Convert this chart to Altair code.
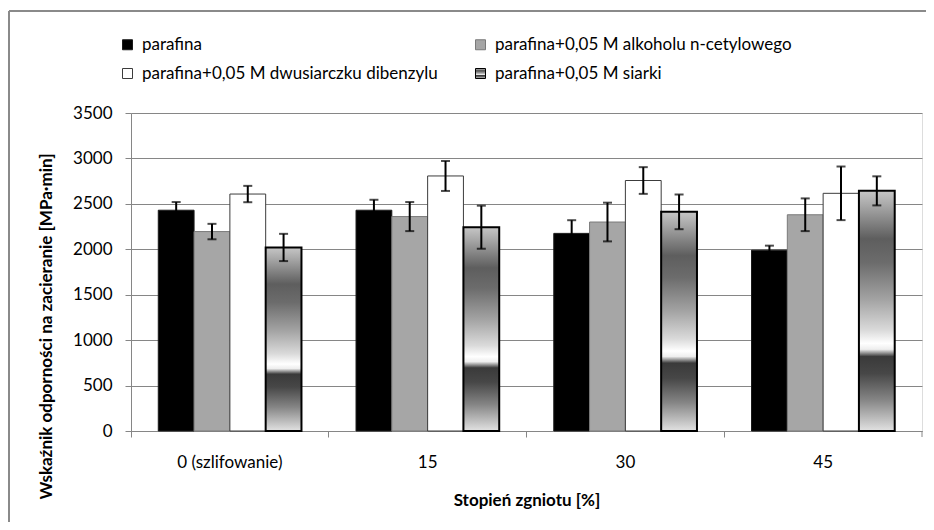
import altair as alt
import pandas as pd

categories = ["0 (szlifowanie)", "15", "30", "45"]
series_names = [
    "parafina",
    "parafina+0,05 M alkoholu n-cetylowego",
    "parafina+0,05 M dwusiarczku dibenzylu",
    "parafina+0,05 M siarki",
]
parafina = [2430, 2430, 2175, 1990]
parafina_err = [90, 115, 145, 50]
alkohol = [2195, 2360, 2300, 2380]
alkohol_err = [85, 160, 213, 180]
dwusiarczek = [2608, 2807, 2757, 2616]
dwusiarczek_err = [90, 165, 147, 295]
siarka = [2020, 2243, 2412, 2643]
siarka_err = [150, 237, 191, 160]
y_ticks = [0, 500, 1000, 1500, 2000, 2500, 3000, 3500]

rows = []
for name, vals, errs in zip(series_names,
                            [parafina, alkohol, dwusiarczek, siarka],
                            [parafina_err, alkohol_err, dwusiarczek_err, siarka_err]):
    for c, v, e in zip(categories, vals, errs):
        rows.append({"cat": c, "series": name, "value": v, "lo": v - e, "hi": v + e})
df = pd.DataFrame(rows)

grad_expr = (
    "{gradient: 'linear', x1: 0, y1: 0, x2: 0, y2: 1, stops: ["
    "{offset: 0, color: '#c6c6c6'}, {offset: 0.06, color: '#a8a8a8'},"
    "{offset: 0.2, color: '#5e5e5e'}, {offset: 0.3, color: '#6c6c6c'},"
    "{offset: 0.45, color: '#a2a2a2'}, {offset: 0.58, color: '#dadada'},"
    "{offset: 0.635, color: '#ffffff'}, {offset: 0.66, color: '#eeeeee'},"
    "{offset: 0.69, color: '#3a3a3a'}, {offset: 0.76, color: '#474747'},"
    "{offset: 0.87, color: '#858585'}, {offset: 1, color: '#e2e2e2'}]}"
)

GRAY = "#868686"
FONT = "Lato"
FS = 17

# legend entries fill column by column: order them so rows read as in the original
legend_order = [series_names[0], series_names[2], series_names[1], series_names[3]]

legend = alt.Legend(
    title=None, orient="none", legendX=-12, legendY=-77, columns=2,
    columnPadding=34, rowPadding=11, symbolType="square", symbolSize=100,
    symbolStrokeWidth=1, labelFont=FONT, labelFontSize=FS, labelColor="#000000",
    labelOffset=6, padding=0, labelLimit=500, values=legend_order,
)

x_enc = alt.X(
    "cat:N", sort=categories, title="Stopień zgniotu [%]",
    scale=alt.Scale(paddingInner=0, paddingOuter=0),
    axis=alt.Axis(
        labelAngle=0, bandPosition=0, labelFont=FONT,
        labelFontSize=FS, labelColor="#000000", labelPadding=17, tickSize=6,
        tickColor=GRAY, domainColor=GRAY, titleFont=FONT, titleFontSize=FS,
        titleFontWeight="bold", titleColor="#000000", titleY=69,
        titleBaseline="middle", grid=False,
    ),
)
xoff = alt.XOffset("series:N", sort=series_names,
                   scale=alt.Scale(paddingInner=0, paddingOuter=0.762))
y_scale = alt.Scale(domain=[0, 3500], nice=False)

bars = alt.Chart(df).mark_bar(binSpacing=0).encode(
    x=x_enc,
    xOffset=xoff,
    y=alt.Y(
        "value:Q", stack=None, scale=y_scale,
        title="Wskaźnik odporności na zacieranie [MPa·min]",
        axis=alt.Axis(
            values=y_ticks, format="d", labelFont=FONT, labelFontSize=FS,
            labelColor="#000000", labelPadding=13, tickSize=6, tickColor=GRAY,
            domainColor=GRAY, gridColor=GRAY, titleFont=FONT, titleFontSize=FS,
            titleFontWeight="bold", titleColor="#000000", titleX=-85, titleY=213,
            titleBaseline="middle", titleAngle=270,
        ),
    ),
    fill=alt.Fill(
        "series:N", sort=series_names,
        scale=alt.Scale(domain=series_names,
                        range=["#000000", "#a6a6a6", "#ffffff", alt.ExprRef(grad_expr)]),
        legend=legend,
    ),
    stroke=alt.Stroke(
        "series:N", sort=series_names,
        scale=alt.Scale(domain=series_names,
                        range=["#1a1a1a", "#7a7a7a", "#3c3c3c", "#000000"]),
        legend=legend,
    ),
    strokeWidth=alt.condition(alt.datum.series == "parafina+0,05 M siarki",
                              alt.value(2), alt.value(1)),
)

err = alt.Chart(df).mark_rule(color="#000000", strokeWidth=2).encode(
    x=alt.X("cat:N", sort=categories),
    xOffset=xoff,
    y=alt.Y("lo:Q", scale=y_scale),
    y2="hi:Q",
)
cap_lo = alt.Chart(df).mark_tick(color="#000000", thickness=2, size=9).encode(
    x=alt.X("cat:N", sort=categories), xOffset=xoff, y=alt.Y("lo:Q", scale=y_scale))
cap_hi = alt.Chart(df).mark_tick(color="#000000", thickness=2, size=9).encode(
    x=alt.X("cat:N", sort=categories), xOffset=xoff, y=alt.Y("hi:Q", scale=y_scale))

one = pd.DataFrame({"k": [0]})
end_tick = alt.Chart(one).mark_rule(color=GRAY, strokeWidth=1).encode(
    x=alt.value(791), y=alt.value(318), y2=alt.value(324))
frame_top = alt.Chart(one).mark_rule(color="#8a8a8a", strokeWidth=2).encode(
    x=alt.value(-122), x2=alt.value(900), y=alt.value(-102))
frame_left = alt.Chart(one).mark_rule(color="#8a8a8a", strokeWidth=2).encode(
    x=alt.value(-122), y=alt.value(-102), y2=alt.value(600))

chart = alt.layer(bars, err, cap_lo, cap_hi, end_tick, frame_top, frame_left).properties(
    width=791, height=318,
    autosize=alt.AutoSizeParams(type="none"),
    padding={"left": 123, "top": 105, "right": 4, "bottom": 91},
).configure_view(stroke="transparent").configure(font=FONT)

chart.save("out.html", embed_options={"renderer": "svg", "actions": False})
